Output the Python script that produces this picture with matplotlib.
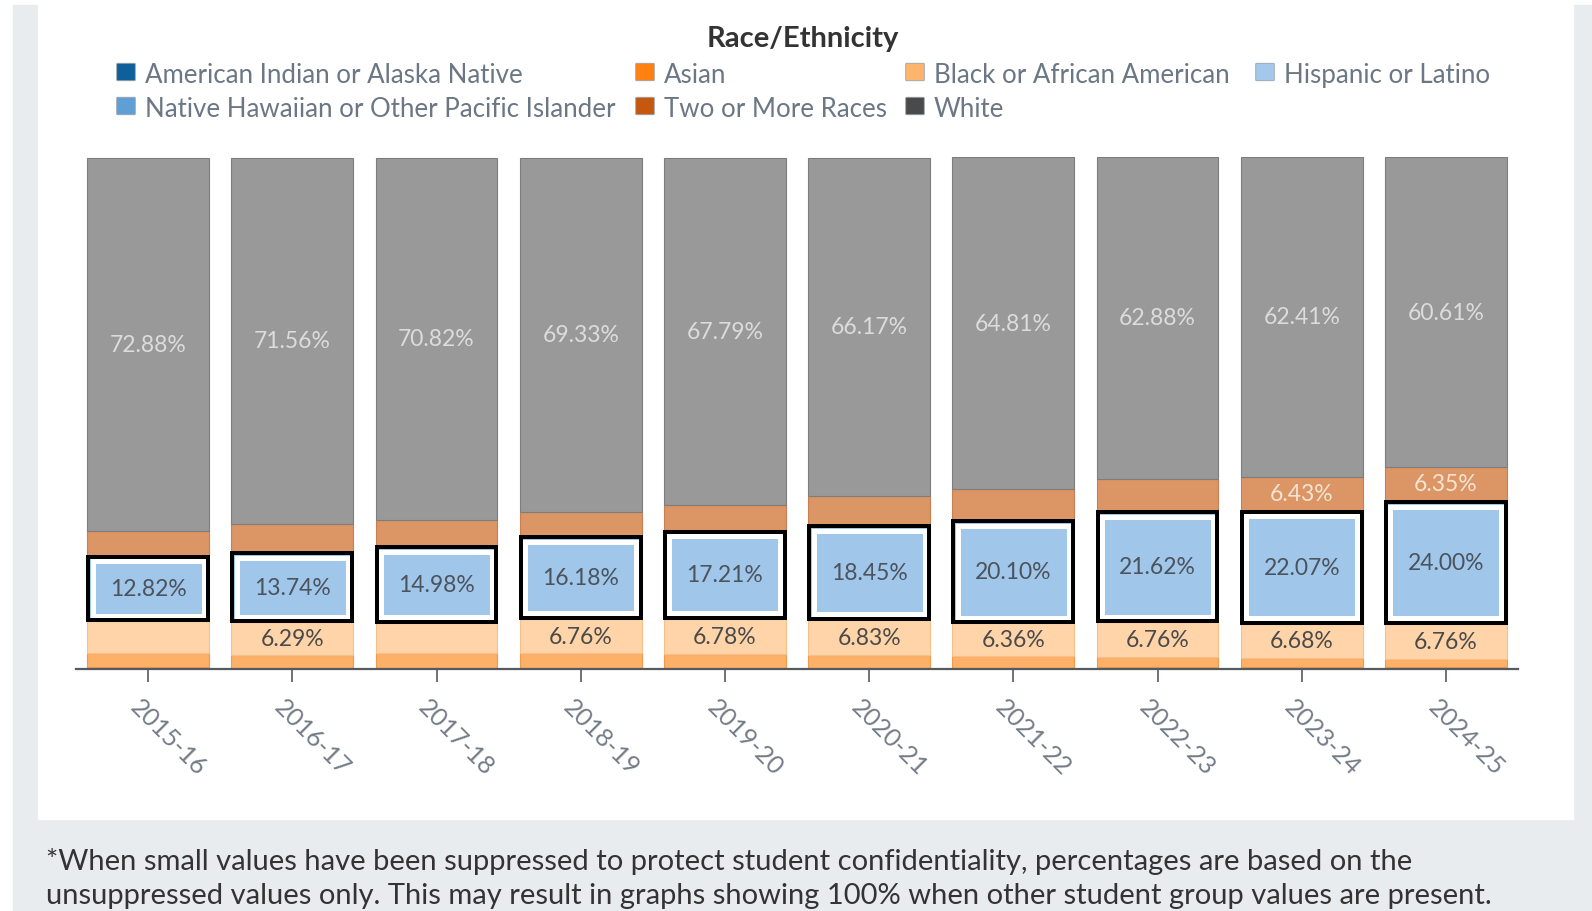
import matplotlib.pyplot as plt
import matplotlib.patches as mpatches
import matplotlib.transforms as mtransforms
import numpy as np

plt.rcParams['font.family'] = ['Lato', 'DejaVu Sans']

years = ["2015-16", "2016-17", "2017-18", "2018-19", "2019-20",
         "2020-21", "2021-22", "2022-23", "2023-24", "2024-25"]

# percentages, stacked bottom -> top
american_indian = [0.30, 0.10, 0.10, 0.13, 0.12, 0.10, 0.10, 0.30, 0.30, 0.35]
asian = [2.90, 2.70, 3.00, 2.90, 2.90, 2.70, 2.50, 2.10, 1.90, 1.70]
black = [6.10, 6.29, 5.90, 6.76, 6.78, 6.83, 6.36, 6.76, 6.68, 6.76]
hispanic = [12.82, 13.74, 14.98, 16.18, 17.21, 18.45, 20.10, 21.62, 22.07, 24.00]
pacific_islander = [0.20, 0.10, 0.10, 0.10, 0.10, 0.05, 0.08, 0.14, 0.20, 0.23]
two_or_more = [4.60, 5.40, 5.00, 4.50, 5.00, 5.60, 6.00, 6.20, 6.43, 6.35]
white = [72.88, 71.56, 70.82, 69.33, 67.79, 66.17, 64.81, 62.88, 62.41, 60.61]

label_min = 6.25  # smaller segments carry no value label

# name, values, bar colour, bar edge, legend colour, label colour
series = [
    ("American Indian or Alaska Native", american_indian, "#7fa9c9", "#6a96b8", "#0e5f9a", "#444444"),
    ("Asian", asian, "#fdb067", "#f09a4c", "#ff8210", "#444444"),
    ("Black or African American", black, "#fed4a8", "#f6c08a", "#ffb46c", "#4a4a4a"),
    ("Hispanic or Latino", hispanic, "#a0c6ea", "#a0c6ea", "#a4c8ec", "#4b535d"),
    ("Native Hawaiian or Other Pacific Islander", pacific_islander, "#a9c9e6", "#8fb5d8", "#5f9fd6", "#444444"),
    ("Two or More Races", two_or_more, "#dc9564", "#c98050", "#c5580f", "#f4e4d4"),
    ("White", white, "#999999", "#7d7d7d", "#4a4a4a", "#dcdcdc"),
]
legend_order = [0, 1, 2, 3, 4, 5, 6]

W, H = 1592, 912
fig = plt.figure(figsize=(W / 100, H / 100), dpi=100)
fig.patch.set_facecolor("white")

# page background and white card
fig.add_artist(mpatches.Rectangle((13 / W, 0), (W - 13) / W, (H - 6) / H,
                                  transform=fig.transFigure, color="#e8ecef", zorder=0))
fig.add_artist(mpatches.Rectangle((38 / W, (H - 820) / H), (1573 - 38) / W, 820 / H,
                                  transform=fig.transFigure, color="white", zorder=0))

ax = fig.add_axes([76 / W, (H - 670) / H, 1442 / W, 512 / H])
ax.set_facecolor("none")
ax.set_xlim(-0.5, 9.5)
ax.set_ylim(0, 100)

x = np.arange(len(years))
bar_w = 0.846
px_x = 1442 / 10.0   # pixels per x unit
px_y = 512 / 100.0   # pixels per percent

bottom = np.zeros(len(years))
hisp_bottom = None
for name, vals, col, edge, _, lab_col in series:
    vals = np.array(vals)
    ax.bar(x, vals, bar_w, bottom=bottom, color=col, edgecolor=edge,
           linewidth=0.8, zorder=2)
    if name == "Hispanic or Latino":
        hisp_bottom = bottom.copy()
    for i, v in enumerate(vals):
        if v >= label_min:
            ax.text(x[i], bottom[i] + v / 2, f"{v:.2f}%", ha="center", va="center",
                    fontsize=16.5, color=lab_col, zorder=5)
    bottom = bottom + vals

# highlight frame round the Hispanic segment: black outside, white inside
def frame(xc, y0, h, inset_px, lw_px, color):
    dx = inset_px / px_x
    dy = inset_px / px_y
    r = mpatches.Rectangle((xc - bar_w / 2 + dx, y0 + dy), bar_w - 2 * dx, h - 2 * dy,
                           facecolor="none", edgecolor=color, linewidth=lw_px * 0.72,
                           joinstyle="miter", zorder=4)
    ax.add_patch(r)

for i in range(len(years)):
    frame(x[i], hisp_bottom[i], hispanic[i], 5.5, 5, "white")
    frame(x[i], hisp_bottom[i], hispanic[i], 1.0, 4, "black")

for s in ["top", "right", "left"]:
    ax.spines[s].set_visible(False)
ax.spines["bottom"].set_color("#555a60")
ax.spines["bottom"].set_linewidth(1.6)
ax.set_yticks([])
ax.set_xticks(x)
ax.tick_params(axis="x", length=9, width=1.2, color="#555a60", pad=15)
ax.set_xticklabels(years, rotation=-45, ha="left", va="center",
                   rotation_mode="anchor", fontsize=18, color="#737c87")
shift = mtransforms.ScaledTranslation(-14 / 100, 0, fig.dpi_scale_trans)
for lab in ax.get_xticklabels():
    lab.set_transform(lab.get_transform() + shift)

# title and legend
fig.text(803 / W, 1 - 39 / H, "Race/Ethnicity", ha="center", va="center",
         fontsize=21, fontweight="bold", color="#333333")

legend_cols = [126, 645, 915, 1265]
legend_rows = [73, 107]
slots = [(0, 0), (0, 1), (0, 2), (0, 3), (1, 0), (1, 1), (1, 2)]
for k, idx in enumerate(legend_order):
    name, _, _, _, lcol, _ = series[idx]
    r, c = slots[k]
    cx, cy = legend_cols[c], legend_rows[r]
    sw = mpatches.FancyBboxPatch(((cx - 8) / W, 1 - (cy + 8) / H), 16 / W, 16 / H,
                                 boxstyle="round,pad=0.0008", transform=fig.transFigure,
                                 facecolor=lcol, edgecolor="#9aa0a6", linewidth=0.6)
    fig.add_artist(sw)
    fig.text((cx + 19) / W, 1 - (cy + 2.5) / H, name, ha="left", va="center",
             fontsize=18.6, color="#6b7785")

fig.text(46 / W, 1 - 862 / H,
         "*When small values have been suppressed to protect student confidentiality, percentages are based on the",
         ha="left", va="center", fontsize=21, color="#333333")
fig.text(46 / W, 1 - 896 / H,
         "unsuppressed values only. This may result in graphs showing 100% when other student group values are present.",
         ha="left", va="center", fontsize=21, color="#333333")

fig.savefig("out.png", dpi=100)
